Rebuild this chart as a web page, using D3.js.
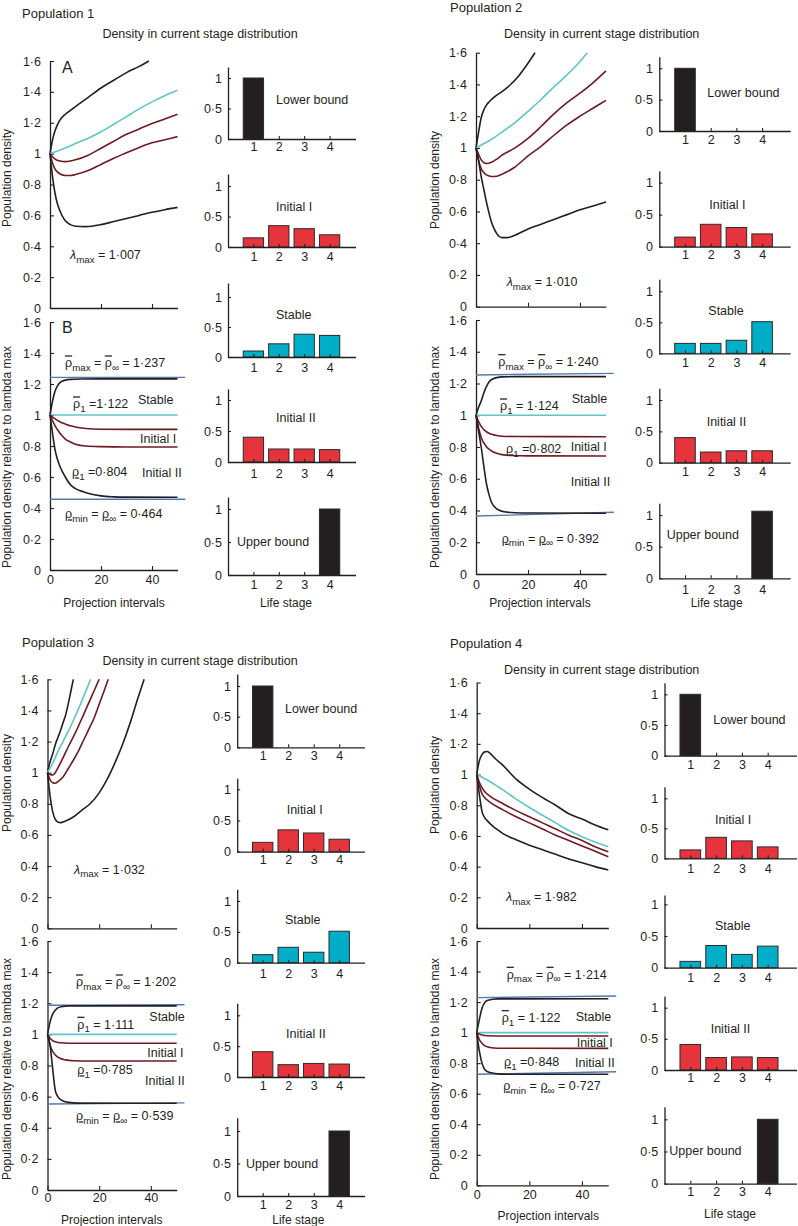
<!DOCTYPE html>
<html><head><meta charset="utf-8">
<script src="https://cdn.jsdelivr.net/npm/d3@7"></script>
<style>
body{margin:0;background:#fff}
svg text{font-family:"Liberation Sans",Arial,Helvetica,sans-serif;fill:#231f20}
</style>
</head><body>
<svg id="c" width="798" height="1226"></svg>
<script>
// ---------------- DATA ----------------
const populations = ["Population 1", "Population 2", "Population 3", "Population 4"];
const subtitle = "Density in current stage distribution";
const stages = [1, 2, 3, 4];
const densityTicks = [0, 0.2, 0.4, 0.6, 0.8, 1, 1.2, 1.4, 1.6];
const intervalTicks = [0, 20, 40];
const shareTicks = [0, 0.5, 1];
const barTitles = ["Lower bound", "Initial I", "Stable", "Initial II", "Upper bound"];
const curveTitles = ["Stable", "Initial I", "Initial II"];
const lambdaMax = [1.007, 1.010, 1.032, 1.982];
const rhoMaxInf = [1.237, 1.240, 1.202, 1.214];
const rhoBar1 = [1.122, 1.124, 1.111, 1.122];
const rhoUnder1 = [0.804, 0.802, 0.785, 0.848];
const rhoMinInf = [0.464, 0.392, 0.539, 0.727];

// Panel A: population density (t, value)
const p1A_upper = [[0,1],[1,1.09],[2,1.15],[3,1.19],[4,1.22],[5,1.24],[6,1.255],[8,1.28],[10,1.305],[15,1.365],[20,1.425],[25,1.475],[30,1.525],[35,1.565],[38.8,1.6]];
const p1A_stable = [[0,1],[5,1.03],[10,1.065],[15,1.1],[20,1.142],[25,1.19],[30,1.24],[35,1.29],[40,1.335],[45,1.375],[50,1.41]];
const p1A_init1 = [[0,1],[1,0.98],[2,0.965],[4,0.952],[6,0.948],[8,0.952],[10,0.96],[15,0.99],[20,1.035],[25,1.08],[30,1.125],[35,1.16],[40,1.195],[45,1.225],[50,1.255]];
const p1A_init2 = [[0,1],[1,0.94],[2,0.9],[3,0.88],[4,0.868],[6,0.858],[8,0.858],[10,0.865],[15,0.89],[20,0.93],[25,0.97],[30,1.005],[35,1.04],[40,1.07],[45,1.09],[50,1.11]];
const p1A_lower = [[0,1],[1,0.85],[2,0.74],[3,0.67],[4,0.625],[5,0.59],[6,0.565],[8,0.54],[10,0.53],[14,0.527],[20,0.54],[25,0.56],[30,0.58],[35,0.6],[40,0.62],[45,0.637],[50,0.652]];

const p2A_upper = [[0,1],[1,1.1],[2,1.19],[3,1.24],[4,1.27],[5,1.29],[7,1.32],[10,1.355],[13,1.395],[16,1.445],[19,1.51],[22.7,1.6]];
const p2A_stable = [[0,1],[5,1.045],[10,1.1],[15,1.16],[20,1.23],[25,1.305],[30,1.385],[35,1.46],[40,1.545],[42.8,1.6]];
const p2A_init1 = [[0,1],[1,0.96],[2,0.925],[3,0.908],[4,0.902],[6,0.91],[8,0.93],[10,0.955],[15,1.0],[20,1.06],[25,1.135],[30,1.215],[35,1.285],[40,1.345],[45,1.41],[50,1.485]];
const p2A_init2 = [[0,1],[1,0.92],[2,0.87],[3,0.845],[4,0.83],[6,0.82],[8,0.822],[10,0.835],[15,0.88],[20,0.95],[25,1.01],[30,1.08],[35,1.145],[40,1.2],[45,1.25],[50,1.3]];
const p2A_lower = [[0,1],[1,0.92],[2,0.82],[3,0.74],[4,0.66],[5,0.59],[6,0.53],[7,0.49],[8,0.46],[10,0.435],[12,0.435],[15,0.45],[20,0.49],[25,0.52],[30,0.55],[35,0.58],[40,0.61],[45,0.635],[50,0.66]];

const p3A_upper = [[0,1],[1,1.07],[2,1.12],[3,1.18],[4,1.225],[5,1.27],[6,1.32],[7,1.37],[8,1.44],[9,1.52],[10,1.6]];
const p3A_stable = [[0,1],[2,1.06],[4,1.135],[6,1.2],[8,1.265],[10,1.335],[12,1.41],[14,1.49],[16.7,1.6]];
const p3A_init1 = [[0,1],[1,0.988],[2,0.985],[3,1.0],[4,1.03],[6,1.095],[8,1.165],[10,1.23],[12,1.3],[14,1.375],[16,1.45],[18,1.525],[20,1.6]];
const p3A_init2 = [[0,1],[1,0.955],[2,0.935],[3,0.932],[4,0.942],[6,0.972],[8,1.025],[10,1.08],[12,1.14],[14,1.21],[16,1.28],[18,1.35],[20,1.44],[22,1.53],[23.5,1.6]];
const p3A_lower = [[0,1],[1,0.85],[2,0.75],[3,0.7],[4,0.683],[5,0.679],[7,0.69],[10,0.715],[13,0.755],[16.5,0.8],[20,0.87],[23,0.955],[26,1.06],[29,1.18],[32,1.32],[35,1.48],[37.4,1.6]];

const p4A_upper = [[0,1],[1,1.09],[2,1.13],[3,1.148],[4,1.15],[5,1.14],[7,1.105],[10,1.06],[15,0.97],[20,0.905],[25,0.85],[30,0.8],[35,0.745],[40,0.71],[45,0.672],[50,0.64]];
const p4A_stable = [[0,1],[5,0.955],[10,0.9],[15,0.84],[20,0.785],[25,0.735],[30,0.685],[35,0.635],[40,0.595],[45,0.56],[50,0.53]];
const p4A_init1 = [[0,1],[1,0.95],[2,0.915],[3,0.89],[5,0.86],[10,0.81],[15,0.765],[20,0.725],[25,0.685],[30,0.645],[35,0.605],[40,0.57],[45,0.53],[50,0.497]];
const p4A_init2 = [[0,1],[1,0.93],[2,0.875],[3,0.85],[5,0.82],[10,0.77],[15,0.725],[20,0.685],[25,0.645],[30,0.605],[35,0.57],[40,0.535],[45,0.5],[50,0.465]];
const p4A_lower = [[0,1],[1,0.87],[2,0.76],[3,0.72],[4,0.7],[6,0.665],[8,0.64],[10,0.615],[15,0.575],[20,0.54],[25,0.51],[30,0.48],[35,0.45],[40,0.425],[45,0.4],[50,0.378]];

// Panel B: density relative to lambda max
const p1B_upper = [[0,1],[1,1.09],[2,1.155],[3,1.19],[4,1.21],[6,1.225],[8,1.23],[12,1.232],[20,1.233],[50,1.233]];
const p1B_stable = [[0,1],[50,1]];
const p1B_init1 = [[0,1],[2,0.975],[4,0.955],[6,0.942],[8,0.93],[10,0.922],[14,0.913],[20,0.908],[30,0.907],[50,0.907]];
const p1B_init2 = [[0,1],[2,0.93],[4,0.88],[6,0.845],[8,0.826],[10,0.812],[14,0.8],[20,0.796],[30,0.794],[50,0.794]];
const p1B_lower = [[0,1],[1,0.88],[2,0.774],[3,0.71],[4,0.665],[6,0.6],[8,0.55],[10,0.525],[13,0.505],[16,0.49],[20,0.478],[25,0.472],[30,0.47],[50,0.469]];
const p1B_boundMax = [[0,1.243],[53,1.243]];
const p1B_boundMin = [[0,0.456],[53,0.456]];

const p2B_upper = [[0,1],[1,1.05],[2,1.09],[3,1.14],[4,1.18],[5,1.21],[6,1.225],[8,1.237],[10,1.242],[15,1.243],[50,1.243]];
const p2B_stable = [[0,1],[50,1]];
const p2B_init1 = [[0,1],[1,0.96],[2,0.93],[4,0.896],[6,0.88],[8,0.872],[10,0.868],[15,0.866],[50,0.865]];
const p2B_init2 = [[0,1],[1,0.92],[2,0.86],[4,0.802],[6,0.775],[8,0.76],[10,0.752],[14,0.746],[20,0.744],[50,0.743]];
const p2B_lower = [[0,1],[1,0.9],[2,0.8],[3,0.68],[4,0.57],[5,0.5],[6,0.45],[8,0.41],[10,0.395],[12,0.39],[15,0.386],[20,0.384],[50,0.383]];
const p2B_boundMax = [[0,1.254],[53,1.264]];
const p2B_boundMin = [[0,0.365],[53,0.389]];

const p3B_upper = [[0,1],[1,1.08],[2,1.13],[3,1.155],[4,1.17],[6,1.18],[8,1.183],[50,1.183]];
const p3B_stable = [[0,1],[50,1]];
const p3B_init1 = [[0,1],[1,0.975],[2,0.96],[3,0.952],[5,0.946],[8,0.943],[50,0.943]];
const p3B_init2 = [[0,1],[1,0.93],[2,0.89],[3,0.868],[5,0.845],[7,0.836],[10,0.831],[15,0.829],[50,0.829]];
const p3B_lower = [[0,1],[1,0.93],[2,0.78],[3,0.64],[4,0.6],[5,0.582],[6,0.572],[8,0.563],[12,0.558],[50,0.557]];
const p3B_boundMax = [[0,1.187],[53,1.19]];
const p3B_boundMin = [[0,0.553],[53,0.56]];

const p4B_upper = [[0,1],[1,1.085],[2,1.16],[3,1.195],[4,1.21],[6,1.218],[8,1.221],[50,1.222]];
const p4B_stable = [[0,1],[50,1]];
const p4B_init1 = [[0,1],[1,0.99],[2,0.984],[4,0.979],[8,0.978],[50,0.978]];
const p4B_init2 = [[0,1],[1,0.955],[2,0.93],[3,0.915],[5,0.903],[8,0.898],[50,0.897]];
const p4B_lower = [[0,1],[1,0.88],[2,0.8],[3,0.76],[4,0.745],[6,0.735],[8,0.73],[12,0.727],[50,0.727]];
const p4B_boundMax = [[0,1.229],[53,1.24]];
const p4B_boundMin = [[0,0.727],[53,0.744]];

// Stage distributions (stages 1-4)
const p1Bar_lower = [1, 0, 0, 0];
const p1Bar_init1 = [0.15, 0.35, 0.30, 0.20];
const p1Bar_stable = [0.10, 0.22, 0.38, 0.36];
const p1Bar_init2 = [0.40, 0.21, 0.21, 0.20];
const p1Bar_upper = [0, 0, 0, 1];

const p2Bar_lower = [1, 0, 0, 0];
const p2Bar_init1 = [0.15, 0.35, 0.30, 0.20];
const p2Bar_stable = [0.16, 0.16, 0.21, 0.51];
const p2Bar_init2 = [0.40, 0.17, 0.19, 0.19];
const p2Bar_upper = [0, 0, 0, 1.06];

const p3Bar_lower = [1, 0, 0, 0];
const p3Bar_init1 = [0.15, 0.35, 0.30, 0.20];
const p3Bar_stable = [0.13, 0.25, 0.17, 0.51];
const p3Bar_init2 = [0.41, 0.20, 0.22, 0.21];
const p3Bar_upper = [0, 0, 0, 1];

const p4Bar_lower = [1, 0, 0, 0];
const p4Bar_init1 = [0.14, 0.35, 0.29, 0.19];
const p4Bar_stable = [0.10, 0.35, 0.21, 0.34];
const p4Bar_init2 = [0.41, 0.20, 0.21, 0.20];
const p4Bar_upper = [0, 0, 0, 1];

// ---------------- LAYOUT / STYLE ----------------
const C = {black:"#231f20", cyan:"#5ec6c6", red:"#6e1a22", blue:"#5479b0",
           barRed:"#e5343b", barCyan:"#00aec8", barBlack:"#231f20", stroke:"#2b2b2b"};
const FS = 12.5;

const layouts = [
 { title:[22,13], sub:[200,34], x0:50, x1:177.5, aTop:61, aBot:308, bTop:322, bBot:570, xLab:10,
   xTitle:[114,603], yTitleX:7, yTitleA:178, yTitleB:457,
   bx0:228, bx5:355, bxEnd:356, bTickX:222, lifeStage:[286,603],
   bars:[{zero:139,one:78,top:67,lab:8,tx:276,ty:100},{zero:247,one:186,top:174,lab:9.4,tx:276,ty:207},
         {zero:357,one:297,top:283,lab:11,tx:276,ty:315},{zero:462,one:400,top:389,lab:11.6,tx:276,ty:418},
         {zero:575,one:509,top:497,lab:10,tx:237,ty:542}],
   lambda:[70,255], rMax:[65,363], stable:[138,400], rBar1:[73,404], init1:[140,439], rU1:[72,472], init2:[142,473], rMin:[65,514],
   eq1:"=", letters:true },
 { title:[450,7], sub:[601.7,34], x0:476, x1:606, aTop:52.7, aBot:306.7, bTop:320, bBot:574, xLab:11,
   xTitle:[540,603], yTitleX:435, yTitleA:180, yTitleB:457,
   bx0:659.3, bx5:787.8, bxEnd:790.7, bTickX:653, lifeStage:[716.7,603],
   bars:[{zero:131,one:68.3,top:56.7,lab:9,tx:707.3,ty:92.3},{zero:246.7,one:182.7,top:170.7,lab:8.3,tx:709.3,ty:204.7},
         {zero:353.3,one:291.3,top:279.3,lab:9.4,tx:708.3,ty:310.7},{zero:462.7,one:400,top:388.3,lab:9,tx:706.7,ty:421.7},
         {zero:578.3,one:515,top:503.3,lab:11,tx:666.7,ty:535}],
   lambda:[506.7,281.7], rMax:[498.3,361.7], stable:[571.7,399], rBar1:[500,406], init1:[570.7,446.7], rU1:[506,449], init2:[570.7,481.7], rMin:[501.7,538.3],
   eq1:"= " },
 { title:[22,642.7], sub:[200,661], x0:47.5, x1:176.7, aTop:679.3, aBot:928.3, bTop:941, bBot:1190, xLab:8,
   xTitle:[111.7,1219.3], yTitleX:7, yTitleA:783, yTitleB:1069,
   bx0:237.2, bx5:364.7, bxEnd:365, bTickX:231, lifeStage:[298.3,1219.3],
   bars:[{zero:747.3,one:686,top:674,lab:8.4,tx:285,ty:708.3},{zero:851.7,one:789.3,top:778.3,lab:7.6,tx:286.7,ty:810},
         {zero:962.7,one:901,top:889.3,lab:10.6,tx:285,ty:920},{zero:1077,one:1015.3,top:1003.3,lab:9,tx:286,ty:1033.7},
         {zero:1196,one:1131,top:1117.7,lab:8.3,tx:246,ty:1163.3}],
   lambda:[74,869.3], rMax:[76,982], stable:[149.3,1016.7], rBar1:[77.3,1024.3], init1:[147.3,1052.7], rU1:[77.3,1070], init2:[145,1081], rMin:[76,1116],
   eq1:"= " },
 { title:[450,643.3], sub:[601.7,669.3], x0:476.7, x1:608.3, aTop:682.5, aBot:928, bTop:941, bBot:1185.3, xLab:9,
   xTitle:[548.3,1216], yTitleX:435, yTitleA:785, yTitleB:1069,
   bx0:664.5, bx5:793.5, bxEnd:797, bTickX:658.3, lifeStage:[730,1213.7],
   bars:[{zero:755.7,one:694.3,top:682.7,lab:9.3,tx:713.3,ty:719.3},{zero:858.3,one:798.3,top:786.7,lab:10,tx:715,ty:819.3},
         {zero:967.7,one:904.3,top:895,lab:10,tx:715,ty:925.3},{zero:1070,one:1007.7,top:996,lab:7.7,tx:710.7,ty:1028.7},
         {zero:1183.7,one:1119.3,top:1106.7,lab:8.3,tx:669.3,ty:1150.3}],
   lambda:[506,896.7], rMax:[506.7,974.3], stable:[575.7,1016.7], rBar1:[501.7,1017.7], init1:[576.7,1042.7], rU1:[504,1061.7], init2:[575,1062.7], rMin:[503.3,1086],
   eq1:"= " }
];

const panelA = [
  [p1A_upper, p1A_stable, p1A_init1, p1A_init2, p1A_lower],
  [p2A_upper, p2A_stable, p2A_init1, p2A_init2, p2A_lower],
  [p3A_upper, p3A_stable, p3A_init1, p3A_init2, p3A_lower],
  [p4A_upper, p4A_stable, p4A_init1, p4A_init2, p4A_lower]];
const panelB = [
  [p1B_upper, p1B_stable, p1B_init1, p1B_init2, p1B_lower],
  [p2B_upper, p2B_stable, p2B_init1, p2B_init2, p2B_lower],
  [p3B_upper, p3B_stable, p3B_init1, p3B_init2, p3B_lower],
  [p4B_upper, p4B_stable, p4B_init1, p4B_init2, p4B_lower]];
const bounds = [[p1B_boundMax,p1B_boundMin],[p2B_boundMax,p2B_boundMin],[p3B_boundMax,p3B_boundMin],[p4B_boundMax,p4B_boundMin]];
const barSets = [
  [p1Bar_lower, p1Bar_init1, p1Bar_stable, p1Bar_init2, p1Bar_upper],
  [p2Bar_lower, p2Bar_init1, p2Bar_stable, p2Bar_init2, p2Bar_upper],
  [p3Bar_lower, p3Bar_init1, p3Bar_stable, p3Bar_init2, p3Bar_upper],
  [p4Bar_lower, p4Bar_init1, p4Bar_stable, p4Bar_init2, p4Bar_upper]];
const seriesColors = [C.black, C.cyan, C.red, C.red, C.black];
const barColors = [C.barBlack, C.barRed, C.barCyan, C.barRed, C.barBlack];

// ---------------- DRAWING ----------------
const svg = d3.select("#c");
const tickFmt = v => Number.isInteger(v) ? String(v) : String(v).replace(".", "·");
const fmt3 = v => v.toFixed(3).replace(".", "·");

function plain(x, y, s, size, anchor) {
  return svg.append("text").attr("x", x).attr("y", y).attr("dy", "0.35em")
    .attr("font-size", size || FS).attr("text-anchor", anchor || "start").text(s);
}
function rich(x, y, parts, size) {
  size = size || FS;
  const t = svg.append("text").attr("x", x).attr("y", y).attr("dy", "0.35em").attr("font-size", size);
  let cur = 0;
  parts.forEach(p => {
    const shift = p.sub ? 3.5 : 0;
    const ts = t.append("tspan").text(p.t);
    if (shift - cur !== 0) ts.attr("dy", shift - cur);
    cur = shift;
    if (p.sub) ts.attr("font-size", size * 0.78);
    if (p.it) ts.attr("font-style", "italic");
    if (p.over) ts.style("text-decoration", "overline");
    if (p.under) ts.style("text-decoration", "underline");
  });
  return t;
}
function styleAxis(g) {
  g.attr("font-size", FS).attr("font-family", '"Liberation Sans",Arial,sans-serif').attr("color", C.black);
  g.selectAll("path.domain").attr("stroke-width", 1.3);
  g.selectAll(".tick line").attr("stroke-width", 1.1);
}

function lineChart(L, top, bottom, series, showLabels, blues) {
  const x = d3.scaleLinear().domain([0, 50]).range([L.x0, L.x1]);
  const y = d3.scaleLinear().domain([0, 1.6]).range([bottom, top]);
  const gx = svg.append("g").attr("transform", `translate(0,${bottom})`)
    .call(d3.axisBottom(x).tickValues(intervalTicks).tickSize(-4).tickSizeOuter(0)
      .tickFormat(showLabels ? d3.format("d") : () => ""));
  styleAxis(gx);
  gx.selectAll(".tick text").attr("y", L.xLab).attr("dy", "0.35em");
  const gy = svg.append("g").attr("transform", `translate(${L.x0},0)`)
    .call(d3.axisLeft(y).tickValues(densityTicks).tickSize(-4).tickSizeOuter(0).tickPadding(9).tickFormat(tickFmt));
  styleAxis(gy);
  const line = d3.line().x(d => x(d[0])).y(d => y(d[1])).curve(d3.curveMonotoneX);
  if (blues) {
    blues.forEach(b => svg.append("path").datum(b).attr("d", d3.line().x(d => x(d[0])).y(d => y(d[1])))
      .attr("fill", "none").attr("stroke", C.blue).attr("stroke-width", 1.4));
  }
  series.forEach((s, i) => {
    svg.append("path").datum(s).attr("d", line).attr("fill", "none")
      .attr("stroke", seriesColors[i]).attr("stroke-width", 1.6).attr("stroke-linejoin", "round");
  });
}

function barChart(L, b, values, color, title) {
  const x = d3.scaleLinear().domain([0, 5]).range([L.bx0, L.bx5]);
  const topVal = (b.zero - b.top) / (b.zero - b.one);
  const y = d3.scaleLinear().domain([0, topVal]).range([b.zero, b.top]);
  const w = (x(1) - x(0)) * 0.8;
  svg.append("g").selectAll("rect").data(values.map((v, i) => ({s: stages[i], v})).filter(d => d.v > 0))
    .join("rect")
    .attr("x", d => x(d.s) - w / 2).attr("width", w)
    .attr("y", d => y(d.v)).attr("height", d => y(0) - y(d.v))
    .attr("fill", color).attr("stroke", C.stroke).attr("stroke-width", 1);
  const gx = svg.append("g").attr("transform", `translate(0,${b.zero})`)
    .call(d3.axisBottom(x).tickValues(stages).tickSize(-3).tickSizeOuter(0).tickFormat(d3.format("d")));
  styleAxis(gx);
  gx.select("path.domain").attr("d", `M${L.bx0},0.5H${L.bxEnd}`);
  gx.selectAll(".tick text").attr("y", b.lab).attr("dy", "0.35em");
  const gy = svg.append("g").attr("transform", `translate(${L.bx0},0)`)
    .call(d3.axisLeft(y).tickValues(shareTicks).tickSize(-3).tickSizeOuter(0)
      .tickPadding(L.bx0 - L.bTickX).tickFormat(tickFmt));
  styleAxis(gy);
  plain(b.tx, b.ty, title);
}

layouts.forEach((L, p) => {
  plain(L.title[0], L.title[1], populations[p], 13);
  plain(L.sub[0], L.sub[1], subtitle, FS, "middle");

  lineChart(L, L.aTop, L.aBot, panelA[p], false, null);
  lineChart(L, L.bTop, L.bBot, panelB[p], true, bounds[p]);

  plain(L.xTitle[0], L.xTitle[1], "Projection intervals", 12, "middle");
  svg.append("text").attr("transform", `translate(${L.yTitleX},${L.yTitleA}) rotate(-90)`)
    .attr("dy", "0.35em").attr("text-anchor", "middle").attr("font-size", 12).text("Population density");
  svg.append("text").attr("transform", `translate(${L.yTitleX},${L.yTitleB}) rotate(-90)`)
    .attr("dy", "0.35em").attr("text-anchor", "middle").attr("font-size", 12).text("Population density relative to lambda max");

  if (L.letters) {
    plain(62, 67, "A", 16);
    plain(62, 327, "B", 16);
  }

  rich(L.lambda[0], L.lambda[1], [{t:"λ", it:true}, {t:"max", sub:true}, {t:" = " + fmt3(lambdaMax[p])}]);
  rich(L.rMax[0], L.rMax[1], [{t:"ρ", over:true}, {t:"max", sub:true}, {t:" = "}, {t:"ρ", over:true}, {t:"∞", sub:true}, {t:" = " + fmt3(rhoMaxInf[p])}]);
  rich(L.rBar1[0], L.rBar1[1], [{t:"ρ", over:true}, {t:"1", sub:true}, {t:" " + L.eq1 + fmt3(rhoBar1[p])}]);
  rich(L.rU1[0], L.rU1[1], [{t:"ρ", under:true}, {t:"1", sub:true}, {t:" =" + fmt3(rhoUnder1[p])}]);
  rich(L.rMin[0], L.rMin[1], [{t:"ρ", under:true}, {t:"min", sub:true}, {t:" = "}, {t:"ρ", under:true}, {t:"∞", sub:true}, {t:" = " + fmt3(rhoMinInf[p])}]);
  plain(L.stable[0], L.stable[1], curveTitles[0]);
  plain(L.init1[0], L.init1[1], curveTitles[1]);
  plain(L.init2[0], L.init2[1], curveTitles[2]);

  L.bars.forEach((b, i) => barChart(L, b, barSets[p][i], barColors[i], barTitles[i]));
  plain(L.lifeStage[0], L.lifeStage[1], "Life stage", 12, "middle");
});
</script>
</body></html>
